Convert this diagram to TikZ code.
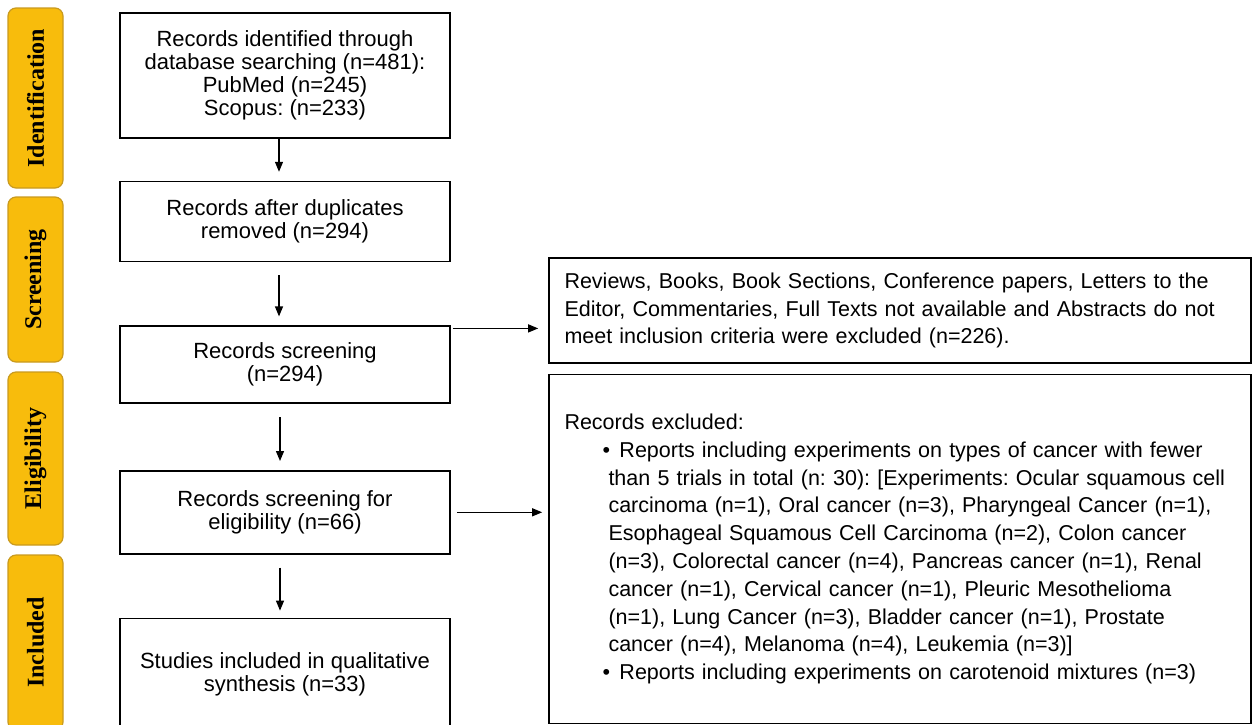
\documentclass[tikz,border=0pt]{standalone}
\usepackage{fontspec}
\setmainfont{Liberation Sans}
\newfontfamily\stagefont{Liberation Serif}
\usetikzlibrary{arrows.meta,positioning}
\definecolor{Gold}{HTML}{F8BC0C}
\definecolor{GoldEdge}{HTML}{C99A1E}
\newcommand{\bul}{\hspace*{38pt}\makebox[17pt][l]{\textbullet}}
\newcommand{\hang}{\hspace*{44pt}}
\frenchspacing

\begin{document}
\begin{tikzpicture}[
  x=1pt,y=-1pt,
  node distance=40pt,
  every node/.style={font=\fontsize{22}{23}\selectfont},
  stage/.style={rectangle,rounded corners=8pt,draw=GoldEdge,fill=Gold,line width=1.2pt,
    rotate=90,minimum height=55pt,inner sep=0pt,
    font=\stagefont\bfseries\fontsize{24}{26}\selectfont},
  flow/.style={rectangle,draw=black,line width=1.6pt,minimum width=330pt,
    align=center,inner sep=4pt},
  note/.style={rectangle,draw=black,line width=1.6pt,text width=671pt,
    inner xsep=15.5pt,align=left,font=\fontsize{21.5}{27.8}\selectfont},
  arrow/.style={-{Triangle[length=10pt,width=8pt]},line width=1.2pt}
]
\useasboundingbox (0,0) rectangle (1253,724);

% stages
\node[stage,minimum width=180pt] (idt) at (35.5,98) {Identification};
\node[stage,minimum width=165pt] (scn) at (35.5,279.5) {Screening};
\node[stage,minimum width=173pt] (elg) at (35.5,458.5) {Eligibility};
\node[stage,minimum width=175pt] (inc) at (35.5,642.5) {Included};

% main flow
\node[flow,minimum height=125pt] (srch) at (285,75.5)
  {Records identified through\\database searching (n=481):\\PubMed (n=245)\\Scopus: (n=233)};
\node[flow,minimum height=80pt,below=42pt of srch] (dupl)
  {Records after duplicates\\removed (n=294)};
\node[flow,minimum height=77pt,below=63pt of dupl] (scrn)
  {Records screening\\(n=294)};
\node[flow,minimum height=83pt,below=66pt of scrn] (full)
  {Records screening for\\eligibility (n=66)};
\node[flow,minimum height=111pt,below=63pt of full] (incl)
  {Studies included in qualitative\\synthesis (n=33)};

% exclusions
\node[note,minimum height=105pt] (exa) at (900,310.5)
  {Reviews, Books, Book Sections, Conference papers, Letters to the\\
   Editor, Commentaries, Full Texts not available and Abstracts do not\\
   meet inclusion criteria were excluded (n=226).};
\node[note,minimum height=349pt,below=10pt of exa] (exb)
  {Records excluded:\\
   \bul Reports including experiments on types of cancer with fewer\\
   \hang than 5 trials in total (n: 30): [Experiments: Ocular squamous cell\\
   \hang carcinoma (n=1), Oral cancer (n=3), Pharyngeal Cancer (n=1),\\
   \hang Esophageal Squamous Cell Carcinoma (n=2), Colon cancer\\
   \hang (n=3), Colorectal cancer (n=4), Pancreas cancer (n=1), Renal\\
   \hang cancer (n=1), Cervical cancer (n=1), Pleuric Mesothelioma\\
   \hang (n=1), Lung Cancer (n=3), Bladder cancer (n=1), Prostate\\
   \hang cancer (n=4), Melanoma (n=4), Leukemia (n=3)]\\
   \bul Reports including experiments on carotenoid mixtures (n=3)};

\draw[arrow,shorten >=9pt] ([xshift=-6pt]srch.south) -- ([xshift=-6pt]dupl.north);
\draw[arrow,shorten <=13pt,shorten >=9pt] ([xshift=-6pt]dupl.south) -- ([xshift=-6pt]scrn.north);
\draw[arrow,shorten <=13pt,shorten >=9pt] ([xshift=-5pt]scrn.south) -- ([xshift=-5pt]full.north);
\draw[arrow,shorten <=13pt,shorten >=7pt] ([xshift=-5pt]full.south) -- ([xshift=-5pt]incl.north);
\coordinate (ja) at ([yshift=-3pt]scrn.north east);
\draw[arrow,shorten <=2pt,shorten >=10pt] (ja) -- (ja -| exa.west);
\draw[arrow,shorten <=6pt,shorten >=6pt] (full.east) -- (full.east -| exb.west);
\end{tikzpicture}
\end{document}
